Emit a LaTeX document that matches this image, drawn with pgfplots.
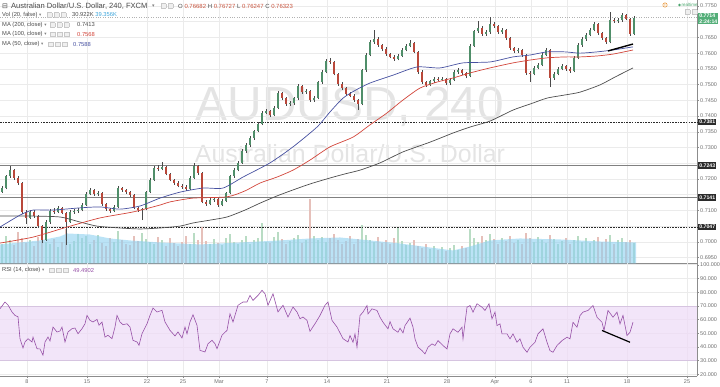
\documentclass[border=0pt]{standalone}
\usepackage{fontspec}
\setmainfont{Liberation Sans}
\newfontfamily\djv{DejaVu Sans}
\usepackage{pgfplots}
\usepackage{pgfplotstable}
\pgfplotsset{compat=1.18}
\definecolor{upc}{HTML}{4F8E69}
\definecolor{dnc}{HTML}{B9483A}
\definecolor{wickc}{HTML}{4A4A4A}
\definecolor{ma200}{HTML}{4D4D4D}
\definecolor{ma100}{HTML}{D2453A}
\definecolor{ma50}{HTML}{4650A0}
\definecolor{rsic}{HTML}{9650A6}
\definecolor{rsiband}{HTML}{EEDCF7}
\definecolor{rsiedge}{HTML}{D6C4E0}
\definecolor{gridc}{HTML}{EBEBEB}
\definecolor{axc}{HTML}{8C8C8C}
\definecolor{lblc}{HTML}{6E6E6E}
\definecolor{wm}{HTML}{E4E4E4}
\definecolor{volarea}{HTML}{8ED0F0}
\definecolor{volup}{HTML}{B9DCC4}
\definecolor{voldn}{HTML}{E6C0BA}
\definecolor{lgtxt}{HTML}{4A4A4A}
\definecolor{pgreen}{HTML}{49A56C}
\definecolor{boxg}{HTML}{53AE78}
\definecolor{boxk}{HTML}{2B2B2B}
\definecolor{volblue}{HTML}{3DA5DB}
\definecolor{ohlcred}{HTML}{C8553F}
\definecolor{levg}{HTML}{808080}
\definecolor{icofr}{HTML}{C8C8C8}
\definecolor{icobg}{HTML}{EFEFEF}
\definecolor{orangec}{HTML}{E8912D}
\newcommand\fs[1]{\fontsize{#1}{#1}\selectfont}
\newcommand\ib{\begingroup\setlength\fboxsep{0pt}\setlength\fboxrule{0.35bp}\fcolorbox{icofr}{icobg}{\rule{0pt}{4.4bp}\hspace{4.4bp}}\endgroup}
\newcommand\ibs{\ib\hspace{1.8bp}\ib\hspace{1.8bp}\ib}
\pgfplotsset{
  pane/.style={scale only axis, width=697bp, xmin=0, xmax=697, enlargelimits=false},
  /pgf/number format/assume math mode=true,
}
\pgfplotstableread{
x o h l c u v
2 0.7160 0.7176 0.7155 0.7171 1 30
6 0.7171 0.7214 0.7167 0.7209 1 42
10 0.7209 0.7241 0.7204 0.7228 1 35
14 0.7228 0.7232 0.7198 0.7203 0 28
18 0.7203 0.7208 0.7182 0.7187 0 48
22 0.7187 0.7190 0.7090 0.7095 0 38
26 0.7095 0.7100 0.7057 0.7076 0 31
30 0.7076 0.7102 0.7072 0.7095 1 36
34 0.7095 0.7100 0.7077 0.7082 0 27
38 0.7082 0.7086 0.7045 0.7050 0 40
42 0.7050 0.7054 0.6996 0.7006 0 46
46 0.7006 0.7068 0.7002 0.7063 1 33
50 0.7063 0.7104 0.7058 0.7098 1 29
54 0.7098 0.7108 0.7090 0.7095 0 37
58 0.7095 0.7114 0.7091 0.7108 1 25
62 0.7108 0.7112 0.7087 0.7092 0 32
66 0.7092 0.7096 0.6990 0.7063 0 52
70 0.7063 0.7100 0.7060 0.7095 1 30
74 0.7095 0.7104 0.7090 0.7098 1 34
78 0.7098 0.7107 0.7093 0.7101 1 45
82 0.7101 0.7122 0.7097 0.7117 1 38
86 0.7117 0.7158 0.7113 0.7152 1 41
90 0.7152 0.7170 0.7148 0.7165 1 29
94 0.7165 0.7169 0.7147 0.7152 0 35
98 0.7152 0.7162 0.7146 0.7155 1 44
102 0.7155 0.7158 0.7115 0.7120 0 31
106 0.7120 0.7124 0.7099 0.7104 0 27
110 0.7104 0.7108 0.7093 0.7098 0 39
114 0.7098 0.7116 0.7094 0.7111 1 33
118 0.7111 0.7177 0.7107 0.7171 1 50
122 0.7171 0.7175 0.7160 0.7165 0 36
126 0.7165 0.7169 0.7153 0.7158 0 30
130 0.7158 0.7162 0.7144 0.7149 0 28
134 0.7149 0.7152 0.7103 0.7108 0 41
138 0.7108 0.7112 0.7096 0.7101 0 34
142 0.7101 0.7109 0.7069 0.7104 1 46
146 0.7104 0.7163 0.7100 0.7158 1 37
150 0.7158 0.7202 0.7154 0.7197 1 32
154 0.7197 0.7240 0.7193 0.7235 1 29
158 0.7235 0.7245 0.7226 0.7232 0 40
162 0.7232 0.7254 0.7227 0.7238 1 35
166 0.7238 0.7242 0.7211 0.7216 0 27
170 0.7216 0.7220 0.7192 0.7197 0 38
174 0.7197 0.7201 0.7182 0.7187 0 31
178 0.7187 0.7192 0.7173 0.7178 0 26
182 0.7178 0.7184 0.7168 0.7174 0 33
186 0.7174 0.7180 0.7163 0.7168 0 42
190 0.7168 0.7208 0.7164 0.7203 1 30
194 0.7203 0.7251 0.7199 0.7241 1 47
198 0.7241 0.7245 0.7214 0.7219 0 36
202 0.7219 0.7222 0.7122 0.7127 0 55
206 0.7127 0.7133 0.7114 0.7120 0 34
210 0.7120 0.7139 0.7116 0.7133 1 29
214 0.7133 0.7142 0.7128 0.7136 1 37
218 0.7136 0.7140 0.7112 0.7117 0 31
222 0.7117 0.7135 0.7113 0.7130 1 28
226 0.7130 0.7160 0.7126 0.7155 1 39
230 0.7155 0.7214 0.7151 0.7209 1 45
234 0.7209 0.7234 0.7203 0.7228 1 33
238 0.7228 0.7256 0.7224 0.7251 1 30
242 0.7251 0.7294 0.7247 0.7289 1 36
246 0.7289 0.7314 0.7284 0.7308 1 41
250 0.7308 0.7336 0.7303 0.7330 1 29
254 0.7330 0.7357 0.7325 0.7352 1 35
258 0.7352 0.7381 0.7348 0.7375 1 38
262 0.7375 0.7416 0.7371 0.7410 1 62
266 0.7410 0.7423 0.7405 0.7416 1 33
270 0.7416 0.7420 0.7398 0.7403 0 31
274 0.7403 0.7431 0.7399 0.7426 1 40
278 0.7426 0.7480 0.7422 0.7473 1 48
282 0.7473 0.7478 0.7452 0.7457 0 37
286 0.7457 0.7462 0.7433 0.7438 0 30
290 0.7438 0.7448 0.7432 0.7441 1 34
294 0.7441 0.7462 0.7436 0.7457 1 39
298 0.7457 0.7502 0.7452 0.7496 1 44
302 0.7496 0.7500 0.7471 0.7476 0 31
306 0.7476 0.7485 0.7470 0.7479 1 36
310 0.7479 0.7483 0.7445 0.7451 0 98
314 0.7451 0.7463 0.7446 0.7457 1 42
318 0.7457 0.7513 0.7453 0.7508 1 35
322 0.7508 0.7546 0.7503 0.7540 1 40
326 0.7540 0.7580 0.7536 0.7575 1 33
330 0.7575 0.7585 0.7566 0.7572 0 38
334 0.7572 0.7576 0.7529 0.7534 0 45
338 0.7534 0.7538 0.7497 0.7502 0 36
342 0.7502 0.7507 0.7484 0.7489 0 30
346 0.7489 0.7493 0.7465 0.7470 0 34
350 0.7470 0.7476 0.7459 0.7464 0 41
354 0.7464 0.7469 0.7446 0.7451 0 29
358 0.7451 0.7455 0.7419 0.7438 0 37
362 0.7438 0.7551 0.7434 0.7546 1 58
366 0.7546 0.7600 0.7541 0.7594 1 44
370 0.7594 0.7641 0.7590 0.7635 1 36
374 0.7635 0.7674 0.7630 0.7645 1 33
378 0.7645 0.7650 0.7621 0.7626 0 40
382 0.7626 0.7630 0.7608 0.7613 0 31
386 0.7613 0.7618 0.7592 0.7597 0 35
390 0.7597 0.7602 0.7583 0.7588 0 29
394 0.7588 0.7594 0.7576 0.7581 0 38
398 0.7581 0.7597 0.7577 0.7591 1 55
402 0.7591 0.7615 0.7587 0.7610 1 34
406 0.7610 0.7628 0.7606 0.7623 1 28
410 0.7623 0.7642 0.7618 0.7632 1 31
414 0.7632 0.7636 0.7599 0.7604 0 36
418 0.7604 0.7608 0.7535 0.7540 0 26
422 0.7540 0.7545 0.7503 0.7508 0 24
426 0.7508 0.7513 0.7493 0.7499 0 30
430 0.7499 0.7516 0.7495 0.7511 1 22
434 0.7511 0.7524 0.7506 0.7518 1 27
438 0.7518 0.7524 0.7510 0.7515 0 21
442 0.7515 0.7523 0.7510 0.7518 1 25
446 0.7518 0.7522 0.7500 0.7505 0 19
450 0.7505 0.7520 0.7500 0.7515 1 23
454 0.7515 0.7545 0.7511 0.7540 1 28
458 0.7540 0.7552 0.7535 0.7546 1 20
462 0.7546 0.7551 0.7532 0.7537 0 26
466 0.7537 0.7541 0.7520 0.7527 0 24
470 0.7527 0.7628 0.7523 0.7623 1 52
474 0.7623 0.7675 0.7619 0.7670 1 38
478 0.7670 0.7702 0.7665 0.7680 1 33
482 0.7680 0.7685 0.7656 0.7661 0 41
486 0.7661 0.7675 0.7656 0.7667 1 35
490 0.7667 0.7715 0.7662 0.7693 1 45
494 0.7693 0.7699 0.7680 0.7686 0 37
498 0.7686 0.7690 0.7662 0.7667 0 30
502 0.7667 0.7680 0.7661 0.7674 1 39
506 0.7674 0.7678 0.7643 0.7648 0 34
510 0.7648 0.7652 0.7611 0.7616 0 42
514 0.7616 0.7621 0.7602 0.7607 0 31
518 0.7607 0.7616 0.7601 0.7610 1 36
522 0.7610 0.7614 0.7589 0.7594 0 29
526 0.7594 0.7598 0.7532 0.7537 0 47
530 0.7537 0.7542 0.7508 0.7534 0 38
534 0.7534 0.7558 0.7529 0.7553 1 33
538 0.7553 0.7568 0.7548 0.7562 1 40
542 0.7562 0.7599 0.7558 0.7594 1 35
546 0.7594 0.7616 0.7590 0.7610 1 31
550 0.7610 0.7614 0.7492 0.7521 0 44
554 0.7521 0.7540 0.7516 0.7534 1 37
558 0.7534 0.7556 0.7529 0.7550 1 30
562 0.7550 0.7565 0.7545 0.7559 1 34
566 0.7559 0.7563 0.7544 0.7550 0 39
570 0.7550 0.7555 0.7537 0.7543 0 29
574 0.7543 0.7590 0.7539 0.7585 1 36
578 0.7585 0.7631 0.7581 0.7626 1 42
582 0.7626 0.7650 0.7621 0.7645 1 33
586 0.7645 0.7663 0.7640 0.7658 1 38
590 0.7658 0.7680 0.7653 0.7674 1 31
594 0.7674 0.7699 0.7669 0.7693 1 35
598 0.7693 0.7697 0.7659 0.7664 0 40
602 0.7664 0.7668 0.7643 0.7648 0 32
606 0.7648 0.7652 0.7630 0.7635 0 37
610 0.7635 0.7731 0.7631 0.7705 1 43
614 0.7705 0.7712 0.7696 0.7702 0 30
618 0.7702 0.7713 0.7697 0.7705 1 35
622 0.7705 0.7728 0.7700 0.7721 1 38
626 0.7721 0.7725 0.7704 0.7709 0 33
630 0.7709 0.7713 0.7655 0.7661 0 36
634 0.7661 0.7717 0.7657 0.7712 1 31
}\candles
\begin{document}
\begin{tikzpicture}
% watermark
\node[anchor=base, inner sep=0, text=wm, font=\fs{48}] at (350bp,266bp) {AUDUSD, 240};
\node[anchor=base, inner sep=0, text=wm, font=\fs{25}] at (350bp,224bp) {Australian Dollar/U.S. Dollar};
% grid / scale of the price pane
\begin{axis}[pane, at={(0bp,387bp)}, anchor=north west, height=263.5bp,
  ymin=0.69311, ymax=0.7769,
  axis x line*=bottom, axis y line*=right,
  axis line style={-, draw=axc, line width=0.6bp},
  xtick={27,87,147,183,219,267,327,387,447,495,531,567,627,687}, xticklabels={},
  xtick style={draw=none},
  ytick={0.695,0.700,0.705,0.710,0.715,0.720,0.725,0.730,0.735,0.740,0.745,0.750,0.755,0.760,0.765,0.770,0.775},
  yticklabels={0.6950,0.7000,{},0.7100,{},0.7200,{},0.7300,0.7350,0.7400,0.7450,0.7500,0.7550,0.7600,0.7650,{},0.7750},
  ytick style={draw=axc, line width=0.4bp}, major tick length=2bp, tick align=outside,
  tick label style={font=\fs{5.5}, text=lblc, inner sep=1pt},
  grid=major, major grid style={draw=gridc, line width=0.5bp},
]
\addplot[draw=none, forget plot] coordinates {(0,0.72) (697,0.72)};
\end{axis}
% volume
\begin{axis}[pane, at={(0bp,387bp)}, anchor=north west, height=263.5bp, ymin=0, ymax=400, hide axis]
\addplot[ycomb, line width=2.2bp, draw=volup] table[x=x, y expr=\thisrow{u}*\thisrow{v}]{\candles};
\addplot[ycomb, line width=2.2bp, draw=voldn] table[x=x, y expr=(1-\thisrow{u})*\thisrow{v}]{\candles};
\addplot[fill=volarea, fill opacity=0.6, draw=none] coordinates {(0,28.9) (20,31.9) (40,35) (60,41) (67,45.6) (90,44) (110,38) (130,35) (160,31.9) (200,28.9) (240,31.9) (280,35) (310,38) (340,39.5) (370,35) (400,30.4) (430,24.3) (453,19.8) (470,25.8) (490,35) (520,38) (560,36.5) (600,33.4) (636,31.9)} \closedcycle;
\end{axis}
% price
\begin{axis}[pane, at={(0bp,387bp)}, anchor=north west, height=263.5bp, ymin=0.69311, ymax=0.7769, hide axis, clip=false]
\addplot[gray!60, line width=0.4bp, dotted] coordinates {(0,0.7714) (697,0.7714)};
\addplot[boxk, line width=0.8bp, dash pattern=on 1.6bp off 1.1bp] coordinates {(0,0.7381) (697,0.7381)};
\addplot[levg, line width=0.8bp] coordinates {(0,0.7243) (697,0.7243)};
\addplot[levg, line width=0.8bp] coordinates {(0,0.7141) (697,0.7141)};
\addplot[boxk, line width=0.8bp, dash pattern=on 1.6bp off 1.1bp] coordinates {(0,0.7047) (697,0.7047)};
% wicks
\addplot[draw=none, error bars/.cd, y dir=plus, y explicit, error mark=none, error bar style={draw=wickc, line width=0.5bp}]
  table[x=x, y=l, y error plus expr=\thisrow{h}-\thisrow{l}]{\candles};
% bodies: up candles (u=1) and down candles (u=0)
\addplot[draw=none, error bars/.cd, y dir=plus, y explicit, error mark=none, error bar style={draw=upc, line width=2.4bp}]
  table[x=x, y=o, y error plus expr=\thisrow{u}*(\thisrow{c}-\thisrow{o})]{\candles};
\addplot[draw=none, error bars/.cd, y dir=plus, y explicit, error mark=none, error bar style={draw=dnc, line width=2.4bp}]
  table[x=x, y=c, y error plus expr=(1-\thisrow{u})*(\thisrow{o}-\thisrow{c})]{\candles};
% moving averages
\addplot[ma200, line width=0.7bp, smooth, tension=0.4] coordinates {(0,0.7082) (30,0.7082) (60,0.7079) (80,0.7063) (97,0.7050) (120,0.7044) (140,0.7041) (160,0.7044) (180,0.7050) (193,0.7060) (210,0.7069) (227,0.7079) (245,0.7101) (260,0.7123) (277,0.7146) (293,0.7165) (310,0.7184) (330,0.7203) (345,0.7216) (360,0.7228) (380,0.7251) (403,0.7286) (430,0.7317) (453,0.7346) (470,0.7365) (490,0.7384) (513,0.7419) (530,0.7438) (547,0.7457) (565,0.7467) (580,0.7476) (600,0.7499) (615,0.7524) (633,0.7553)};
\addplot[ma100, line width=0.7bp, smooth, tension=0.4] coordinates {(0,0.6996) (33,0.7015) (67,0.7047) (100,0.7076) (133,0.7095) (160,0.7117) (170,0.7127) (193,0.7139) (227,0.7143) (245,0.7162) (260,0.7187) (277,0.7206) (293,0.7228) (310,0.7260) (330,0.7302) (353,0.7333) (370,0.7372) (387,0.7410) (403,0.7451) (420,0.7489) (437,0.7508) (453,0.7521) (470,0.7537) (490,0.7553) (513,0.7569) (530,0.7578) (547,0.7585) (565,0.7588) (580,0.7588) (597,0.7591) (613,0.7597) (633,0.7610)};
\addplot[ma50, line width=0.7bp, smooth, tension=0.4] coordinates {(0,0.7047) (20,0.7085) (33,0.7101) (53,0.7101) (80,0.7108) (100,0.7111) (120,0.7104) (140,0.7114) (160,0.7139) (180,0.7158) (203,0.7171) (223,0.7171) (243,0.7206) (270,0.7251) (293,0.7302) (317,0.7365) (330,0.7413) (343,0.7457) (356,0.7483) (370,0.7505) (393,0.7530) (417,0.7556) (440,0.7553) (463,0.7569) (490,0.7572) (513,0.7588) (530,0.7594) (547,0.7604) (565,0.7604) (580,0.7600) (597,0.7604) (613,0.7610) (633,0.7620)};
\addplot[black, line width=1.4bp] coordinates {(608,0.7607) (633,0.7629)};
% price boxes
\node[anchor=north west, fill=boxg, text=white, font=\fs{5.2}\bfseries, inner xsep=1.2bp, inner ysep=1.2bp, align=left] at (axis cs:698,0.7728) {0.7714\\2:24:14};
\node[anchor=west, fill=boxk, text=white, font=\fs{5.2}\bfseries, inner xsep=1.2bp, inner ysep=1.3bp] at (axis cs:698,0.7381) {0.7381};
\node[anchor=west, fill=boxk, text=white, font=\fs{5.2}\bfseries, inner xsep=1.2bp, inner ysep=1.3bp] at (axis cs:698,0.7243) {0.7243};
\node[anchor=west, fill=boxk, text=white, font=\fs{5.2}\bfseries, inner xsep=1.2bp, inner ysep=1.3bp] at (axis cs:698,0.7141) {0.7141};
\node[anchor=west, fill=boxk, text=white, font=\fs{5.2}\bfseries, inner xsep=1.2bp, inner ysep=1.3bp] at (axis cs:698,0.7047) {0.7047};
\end{axis}
% RSI pane
\begin{axis}[pane, at={(0bp,123.5bp)}, anchor=north west, height=113bp,
  ymin=18.4, ymax=100.9,
  axis x line*=bottom, axis y line*=right,
  axis line style={-, draw=axc, line width=0.6bp},
  xtick={27,87,147,183,219,267,327,387,447,495,531,567,627,687},
  xticklabels={8,15,22,25,Mar,7,14,21,28,Apr,6,11,18,25},
  ytick={20,30,40,50,60,70,80,90,100},
  yticklabel style={/pgf/number format/.cd, fixed, fixed zerofill, precision=3},
  tick style={draw=axc, line width=0.4bp}, major tick length=2bp, tick align=outside,
  tick label style={font=\fs{5.5}, text=lblc, inner sep=1pt},
  grid=major, major grid style={draw=gridc, line width=0.5bp},
  clip=false,
]
\fill[rsiband, fill opacity=0.75] (axis cs:0,30) rectangle (axis cs:697,70);
\draw[rsiedge, line width=0.5bp] (axis cs:0,70) -- (axis cs:697,70);
\draw[rsiedge, line width=0.5bp] (axis cs:0,30) -- (axis cs:697,30);
\addplot[rsic, line width=0.6bp] coordinates {(0,67.9) (5,72.8) (8,70.6) (12,65.5) (15,63) (18,62) (20,46) (23,39.2) (25,43.6) (28,46) (32,43.6) (33,47.2) (37,38.7) (40,38.5) (43,34) (45,43.6) (48,47.2) (50,44.3) (53,54.5) (57,50.9) (60,51.6) (62,54.5) (65,43.6) (68,50.9) (72,53.3) (75,53.8) (78,49.6) (82,53.3) (85,56.9) (87,63) (90,59.4) (93,58.2) (97,60.1) (99,55.8) (102,58.2) (105,47.2) (108,48.5) (112,46) (115,54.5) (117,63) (120,58.2) (123,56.2) (127,56.9) (130,54.5) (133,44.8) (137,43.6) (139,41.2) (142,49.6) (147,56.9) (150,63) (153,68.4) (157,65.5) (162,66.7) (165,58.2) (170,52.1) (175,48) (178,50.9) (182,46.5) (185,54.5) (187,49.6) (190,58.2) (193,63.5) (197,55.8) (200,37.5) (205,36.3) (208,42.3) (212,44.8) (215,42.3) (217,38.7) (222,48.5) (227,52.1) (230,64.2) (233,58.2) (238,70.4) (243,72.8) (247,72.8) (250,77.6) (253,74) (258,77.6) (262,81.3) (265,78.8) (268,70.4) (273,78.8) (278,65.5) (283,70.4) (288,61.8) (293,69.1) (297,65.5) (300,60.6) (303,61.8) (307,59.4) (310,51.4) (315,56.9) (320,63) (325,70.4) (328,72.8) (332,59.4) (337,54.5) (343,46) (348,43.6) (350,48.3) (353,43.4) (355,49.5) (357,39.8) (360,62.9) (363,65.4) (367,70.2) (368,64.1) (372,67.8) (377,66.6) (380,61.7) (383,58) (388,53.2) (390,58.5) (393,53.2) (398,50.7) (400,53.7) (403,50.2) (405,55.6) (410,61) (413,54.4) (415,45.9) (418,39.8) (422,37.3) (425,34.9) (428,39.8) (432,42.2) (435,41) (438,44.6) (443,41) (447,38.5) (450,49.5) (453,53.2) (458,50.7) (462,54.4) (463,45.9) (467,69) (470,70.2) (473,65.4) (477,71.5) (482,69) (485,66.6) (489,71.5) (492,60.5) (495,65.4) (497,55.6) (500,56.8) (502,49.5) (507,49.5) (510,45.9) (513,49.5) (517,43.4) (520,45.9) (523,39.8) (527,36.1) (530,39.8) (535,43.4) (538,49.5) (543,53.2) (547,43.4) (550,37.3) (553,36.1) (557,41) (562,44.6) (567,47.1) (570,45.9) (573,58) (577,54.4) (580,62.9) (583,65.4) (588,66.6) (593,70.2) (597,61.7) (602,58) (604,52) (608,66.6) (613,61.7) (617,65.4) (620,56.8) (623,63) (627,48.3) (630,50.7) (633,58)};
\addplot[black, line width=1.2bp] coordinates {(602,52) (630,43.4)};
\end{axis}
% legends
\node[anchor=west, inner sep=0, text=lgtxt] at (2bp,381bp) {\djv\fs{7}⊟};
\node[anchor=west, inner sep=0, text=lgtxt, font=\fs{7.6}] at (11bp,381bp) {Australian Dollar/U.S. Dollar, 240, FXCM};
\node[anchor=west, inner sep=0, text=gray] at (152bp,381bp) {\djv\fs{5}▾};
\node[anchor=west, inner sep=0] at (161bp,381bp) {\ib\hspace{1.8bp}\ib};
\node[anchor=west, inner sep=0, font=\fs{6}] at (178bp,381bp) {\textcolor{lgtxt}{O}\ \textcolor{ohlcred}{0.76682}\ \textcolor{lgtxt}{H}\ \textcolor{ohlcred}{0.76727}\ \textcolor{lgtxt}{L}\ \textcolor{ohlcred}{0.76247}\ \textcolor{lgtxt}{C}\ \textcolor{ohlcred}{0.76323}};
\node[anchor=west, inner sep=0, text=lgtxt, font=\fs{5.8}] at (2bp,372bp) {Vol (20, false)\ {\djv\fs{4.5}\textcolor{gray}{▾}}};
\node[anchor=west, inner sep=0] at (47bp,372bp) {\ibs};
\node[anchor=west, inner sep=0, font=\fs{5.8}] at (72bp,372bp) {\textcolor{lgtxt}{30.922K}\ \textcolor{volblue}{39.356K}};
\node[anchor=west, inner sep=0, text=lgtxt, font=\fs{5.8}] at (2bp,362bp) {MA (200, close)\ {\djv\fs{4.5}\textcolor{gray}{▾}}};
\node[anchor=west, inner sep=0] at (50bp,362bp) {\ibs};
\node[anchor=west, inner sep=0, font=\fs{5.8}, text=ma200] at (77bp,362bp) {0.7413};
\node[anchor=west, inner sep=0, text=lgtxt, font=\fs{5.8}] at (2bp,352.7bp) {MA (100, close)\ {\djv\fs{4.5}\textcolor{gray}{▾}}};
\node[anchor=west, inner sep=0] at (50bp,352.7bp) {\ibs};
\node[anchor=west, inner sep=0, font=\fs{5.8}, text=ma100] at (77bp,352.7bp) {0.7568};
\node[anchor=west, inner sep=0, text=lgtxt, font=\fs{5.8}] at (2bp,342.7bp) {MA (50, close)\ {\djv\fs{4.5}\textcolor{gray}{▾}}};
\node[anchor=west, inner sep=0] at (48bp,342.7bp) {\ibs};
\node[anchor=west, inner sep=0, font=\fs{5.8}, text=ma50] at (73bp,342.7bp) {0.7588};
\node[anchor=west, inner sep=0, text=lgtxt, font=\fs{5.8}] at (2bp,116.7bp) {RSI (14, close)\ {\djv\fs{4.5}\textcolor{gray}{▾}}};
\node[anchor=west, inner sep=0] at (49bp,116.7bp) {\ibs};
\node[anchor=west, inner sep=0, font=\fs{5.8}, text=rsic] at (73bp,116.7bp) {49.4902};
% realtime marker
\node[circle, draw=orangec, line width=0.5bp, inner sep=0.5bp, text=orangec, font=\fs{4}\bfseries] at (665bp,382bp) {!};
\fill[pgreen] (679.5bp,382bp) circle (1.3bp);
\node[anchor=west, inner sep=0, text=pgreen, font=\fs{4.5}] at (681.5bp,382bp) {realtime};
\node[anchor=west, inner sep=0] at (685bp,375bp) {\ib\hspace{1.5bp}\ib};
\pgfresetboundingbox
\useasboundingbox (0bp,0bp) rectangle (720bp,387bp);
\end{tikzpicture}
\end{document}
